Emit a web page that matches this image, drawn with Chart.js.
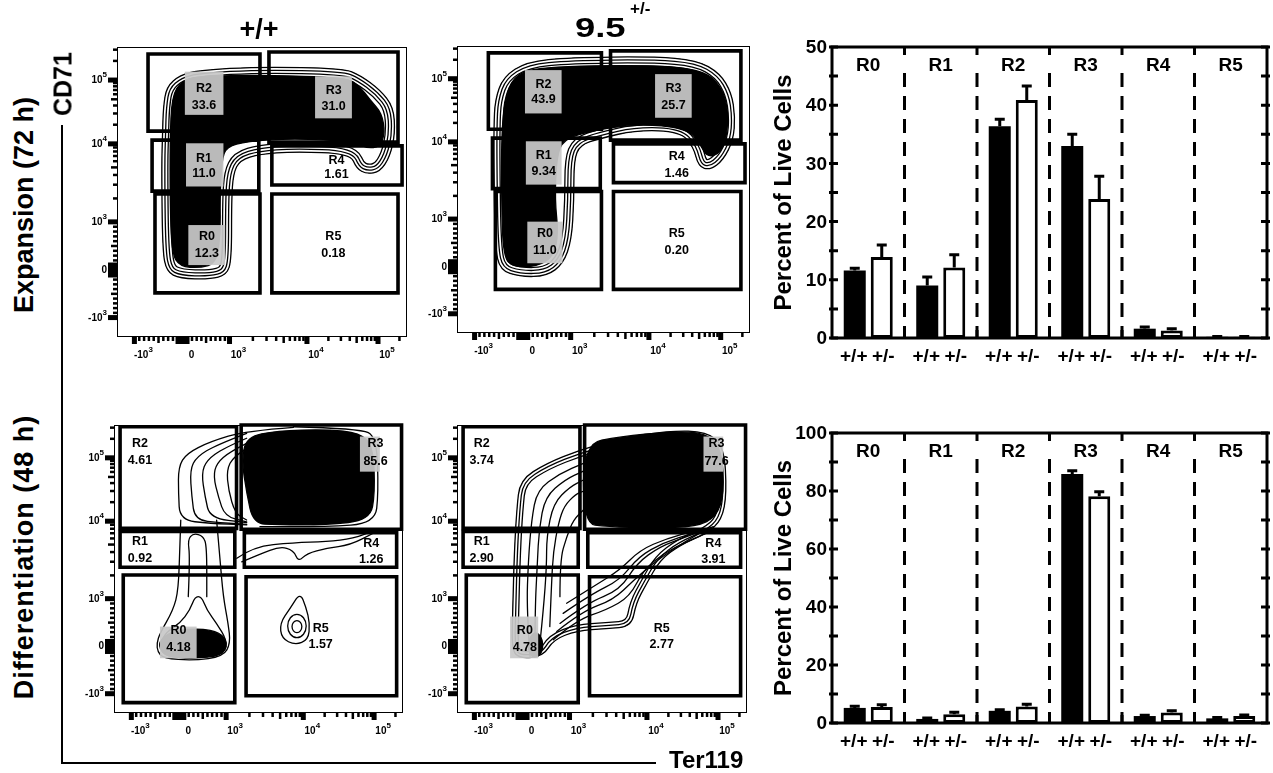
<!DOCTYPE html>
<html><head><meta charset="utf-8">
<script src="https://cdn.jsdelivr.net/npm/chart.js@4.4.1/dist/chart.umd.min.js"></script>
<style>
html,body{margin:0;padding:0;background:#fff;}
body{position:relative;width:1273px;height:773px;overflow:hidden;font-family:"Liberation Sans",Arial,Helvetica,sans-serif;}
canvas{position:absolute;}
.txt{position:absolute;font-weight:bold;line-height:1;white-space:nowrap;color:#000;font-family:"Liberation Sans",Arial,Helvetica,sans-serif;}
.rule{position:absolute;background:#000;}
</style></head>
<body>
<canvas id="tl"></canvas><canvas id="tr"></canvas><canvas id="bl"></canvas><canvas id="br"></canvas>
<canvas id="barTop"></canvas><canvas id="barBot"></canvas>
<div class="rule" style="left:61px;top:125px;width:2px;height:639px;"></div>
<div class="rule" style="left:61px;top:762px;width:595px;height:2px;"></div>
<script>
const FONT = '"Liberation Sans", Arial, Helvetica, sans-serif';
Chart.defaults.font.family = FONT;

// ---------------- bar chart data ----------------
const regions = ["R0","R1","R2","R3","R4","R5"];
const genotypes = ["+/+","+/-"];
const expansionWT     = [11.6, 9.0, 36.4, 33.0, 1.6, 0.2];
const expansionWTsem  = [0.4, 1.5, 1.2, 2.0, 0.3, 0.05];
const expansionHet    = [13.9, 12.1, 40.9, 23.9, 1.3, 0.2];
const expansionHetsem = [2.1, 2.2, 2.4, 3.9, 0.3, 0.05];
const diffWT     = [5.2, 1.4, 4.2, 85.9, 2.4, 1.6];
const diffWTsem  = [0.6, 0.3, 0.4, 1.1, 0.3, 0.3];
const diffHet    = [5.5, 3.0, 5.7, 78.2, 3.6, 2.4];
const diffHetsem = [0.8, 0.7, 0.8, 1.5, 0.6, 0.4];
const expansionYTicks = [0,5,10,15,20,25,30,35,40,45,50];
const expansionYLabels = [0,10,20,30,40,50];
const diffYTicks = [0,10,20,30,40,50,60,70,80,90,100];
const diffYLabels = [0,20,40,60,80,100];

// ---------------- flow cytometry data (axis display units 0-100) ----------------
const flowTickLabels = [["-10","3"],["0",""],["10","3"],["10","4"],["10","5"]];
const flowXTickPos = [6, 22.6, 38.8, 65.5, 90];
const flowYTickPos = [6.7, 23.1, 39.7, 66.6, 88.6];

const expWTPct  = ["12.3","11.0","33.6","31.0","1.61","0.18"];
const expHetPct = ["11.0","9.34","43.9","25.7","1.46","0.20"];
const difWTPct  = ["4.18","0.92","4.61","85.6","1.26","1.57"];
const difHetPct = ["4.78","2.90","3.74","77.6","3.91","2.77"];

// gates [xmin, xmax, ymin, ymax] for R0..R5
const expansionGates = [
  [13.1,49.3,15.2,49.3],[12.1,48.9,50.3,67.9],[10.7,49.3,71.0,97.6],
  [52.4,96.9,67.2,98.3],[53.4,98.3,52.4,65.9],[53.4,96.9,15.2,49.3]];
const differentiationGates = [
  [3.2,41.8,3.6,47.9],[2.1,41.8,50.6,63.0],[2.1,42.4,64.1,99.4],
  [44.0,99.5,63.8,100],[45.1,97.8,50.6,62.6],[45.7,97.8,6.0,47.3]];

// contour outlines
const expWTOuter = [[16.0,79.4],[17.1,86.3],[21.7,90.3],[28.6,92.0],[49.3,93.2],[78.1,92.6],[83.8,90.3],[90.7,85.2],[95.3,79.4],[95.9,70.3],[94.1,62.2],[90.7,57.0],[86.1,56.2],[82.6,58.1],[80.4,63.3],[60.8,63.9],[49.3,63.1],[42.4,61.0],[40.1,56.4],[39.5,47.2],[39.5,26.6],[37.8,21.4],[32.0,19.9],[21.7,20.2],[17.1,22.5],[15.7,30.0],[15.4,58.7],[15.7,70.3]];
const expWTCore = [[18.9,82.9],[22.4,88.6],[29.3,90.0],[49.3,90.3],[79.2,89.5],[83.8,86.3],[87.2,81.8],[91.3,77.2],[92.4,70.3],[90.7,65.6],[86.1,65.1],[81.5,67.4],[60.8,68.5],[44.7,67.4],[37.8,65.6],[36.1,61.0],[35.5,47.2],[35.7,35.8],[34.3,25.5],[28.6,23.8],[21.7,24.3],[18.9,28.9],[18.3,47.2],[18.3,67.9]];
const expHetOuter = [[13.0,81.2],[15.8,89.3],[23.8,94.5],[38.6,96.0],[67.0,96.3],[81.8,95.1],[89.7,90.5],[93.7,83.6],[94.9,75.4],[94.3,67.3],[90.9,60.3],[86.4,56.8],[82.4,58.0],[80.7,64.9],[76.1,70.2],[61.3,70.7],[48.8,67.8],[42.0,65.5],[39.9,60.3],[39.9,46.3],[39.1,32.4],[36.3,24.2],[30.6,19.8],[21.5,19.6],[14.7,21.9],[13.0,30.0],[12.6,58.0],[12.6,71.9]];
const expHetCore = [[16.4,81.2],[19.2,89.3],[27.2,92.8],[67.0,93.4],[84.1,91.6],[90.3,85.8],[92.6,77.7],[92.0,67.3],[89.2,62.1],[85.2,61.5],[82.9,66.1],[78.4,71.3],[61.3,73.0],[44.3,70.1],[36.3,67.3],[34.0,61.5],[33.4,46.3],[34.6,34.7],[32.9,26.6],[27.2,23.1],[19.2,23.1],[15.8,26.6],[15.2,46.3],[15.2,69.6]];

const difWTCore = [[45.9,95.9],[56.3,98.0],[73.6,98.5],[85.1,97.3],[89.7,92.5],[90.3,76.3],[88.6,67.0],[73.6,65.3],[56.3,65.3],[48.2,65.8],[45.9,76.3],[44.2,87.8]];
const difWTRingR = [[62.1,99.4],[85.1,98.8],[90.9,95.9],[91.5,76.3],[90.3,65.8],[73.6,64.7],[50.5,64.7]];
const difWTRing1 = [[62.1,99.2],[45.9,98.0],[33.2,94.2],[25.1,90.1],[22.3,85.5],[22.3,76.3],[22.8,67.0],[33.2,65.8],[45.9,65.3]];
const difWTRing2 = [[45.9,97.1],[35.5,93.1],[28.6,89.0],[26.3,84.4],[26.9,75.1],[28.0,67.0],[36.7,66.1],[45.9,65.5]];
const difWTRing3 = [[45.9,95.4],[37.8,91.9],[32.1,87.8],[30.3,83.2],[31.5,75.1],[33.2,67.6],[45.9,66.1]];
const difWTRing4 = [[45.9,93.6],[40.1,90.7],[35.5,86.7],[34.4,82.1],[36.1,75.1],[38.4,68.2],[45.9,66.4]];
const difWTRing5 = [[45.9,91.9],[41.3,89.0],[39.0,84.4],[39.6,77.4],[41.9,69.3],[45.9,67.0]];
const difWTR0Outer = [[23.1,67.0],[22.8,58.9],[22.3,42.8],[20.5,35.8],[15.9,27.7],[14.8,24.2],[15.1,21.3],[17.1,19.0],[27.4,18.2],[37.8,19.6],[40.3,24.2],[39.5,31.1],[37.8,40.4],[36.7,53.1],[35.5,67.0]];
const difWTR0Mid = [[15.9,24.2],[18.2,28.2],[22.8,31.1],[26.3,35.8],[28.0,40.4],[30.3,40.4],[32.1,35.8],[35.5,31.1],[39.0,25.4],[38.4,20.7],[29.8,19.0],[19.4,19.3],[16.5,21.3]];
const difWTR0Core = [[15.9,25.4],[20.5,28.6],[29.8,29.4],[36.7,27.9],[39.5,24.2],[37.2,19.8],[27.4,19.0],[18.2,19.6],[15.7,22.4]];
const difWTTube = [[25.7,40.4],[26.3,54.2],[25.5,60.1],[27.4,62.4],[30.9,61.5],[32.1,57.8],[32.1,40.4]];
const difWTWave1 = [[44.2,52.5],[50.5,55.2],[57.4,57.8],[62.1,56.6],[63.8,52.5],[66.7,55.4],[73.6,57.2],[81.7,58.3],[89.7,62.4]];
const difWTWave2 = [[42.5,53.7],[48.2,57.8],[62.1,59.1],[73.6,59.5],[82.8,60.6],[90.3,63.5]];
const difWTR5Drop = [[64.4,41.8],[60.9,36.3],[57.4,31.1],[58.0,25.9],[62.7,23.6],[67.2,25.4],[67.8,31.1],[66.4,36.9]];
const difWTR5Ovals = [[63.3,30.2,3.2,4.05],[63.3,30.0,1.7,2.1]];

const difHetOuter = [[18.9,21.9],[19.2,35.8],[19.8,56.6],[20.6,70.5],[21.7,80.9],[30.9,86.7],[42.4,91.3],[56.2,95.4],[73.4,98.0],[86.1,97.7],[92.1,92.5],[93.0,76.3],[91.3,67.0],[86.1,62.4],[76.9,58.3],[70.0,53.1],[65.4,45.0],[61.7,38.1],[60.2,30.0],[51.6,29.3],[41.3,28.6],[33.2,25.4],[29.8,19.8],[21.7,18.9]];
const difHetCore = [[43.6,93.6],[56.2,95.9],[73.4,97.7],[86.1,97.3],[91.3,91.3],[92.1,76.3],[89.5,68.2],[82.7,64.7],[67.7,64.2],[51.6,64.7],[43.6,65.8]];
const difHetRingA = [[25.2,19.6],[24.0,35.8],[24.6,53.1],[25.7,67.0],[27.6,77.4],[35.5,83.2],[43.6,86.7]];
const difHetRingA2 = [[26.9,21.9],[26.9,35.8],[27.7,52.0],[28.3,64.0],[30.4,75.0],[37.2,81.0],[43.6,84.0]];
const difHetRingB = [[28.6,24.2],[29.8,35.8],[30.9,50.9],[30.9,61.2],[33.2,72.8],[39.0,78.6],[43.6,80.9]];
const difHetRingB2 = [[32.0,30.0],[32.6,45.0],[33.2,56.0],[35.0,66.0],[37.0,72.0],[41.0,76.0],[43.6,77.0]];
const difHetRingC = [[35.5,40.4],[35.5,53.1],[37.8,61.2],[40.1,67.0],[43.6,70.5]];
const difHetRingD = [[33.2,25.4],[41.3,32.3],[51.6,35.8],[59.6,40.4],[64.3,49.7],[71.2,55.4],[79.2,59.5],[87.3,63.0]];
const difHetRingD2 = [[34.4,28.3],[43.0,35.2],[53.9,39.3],[60.8,46.0],[67.2,51.6],[75.2,57.4],[83.3,62.2]];
const difHetRingE = [[35.5,31.1],[44.7,38.1],[56.2,42.7],[62.0,52.0],[70.0,57.8],[79.2,61.2],[88.4,64.7]];
const difHetRingE2 = [[36.6,34.6],[45.9,41.0],[56.2,46.2],[62.6,54.3],[71.2,59.2],[80.9,62.3]];
const difHetRingF = [[37.8,38.1],[47.0,43.9],[56.2,49.7],[63.1,56.6],[72.3,60.6],[82.7,63.5]];
const difHetR0Core = [[26.9,28.8],[29.8,25.4],[29.2,20.1],[25.7,19.0],[24.0,24.2]];

// ---------------- layout (positions / styles) ----------------
const labelLayout = {
  tl:{pos:[[31,34.6,28.9],[30,61.6,56.4],[30,85.6,79.9],[74.7,85,79.5],[75.7,61,56],[74.6,34.6,28.9]],
      boxes:[[24.6,37.3,24.8,38.6],[23.8,36.7,51.9,66.8],[23.4,36.7,76.6,91.5],[68.3,81,75.4,89.9],null,null]},
  tr:{pos:[[30,34.7,28.9],[29.6,62,56.2],[29.5,86.4,81.2],[73.9,85.3,79.1],[75,61.4,55.6],[75,34.7,28.9]],
      boxes:[[24,36,24.3,38.8],[23.5,35.7,51.7,66.8],[23.2,35.7,76.5,91.6],[67.6,80.1,75,90.2],null,null]},
  bl:{pos:[[22.3,28.8,22.8],[9,59.5,53.7],[9,93.6,87.8],[90.5,93.6,87.3],[89,59,53.2],[71.5,29.4,23.6]],
      boxes:[[15.9,28.6,19,30],null,null,[85.1,92,83.8,96],null,null]},
  br:{pos:[[23.4,28.8,22.8],[8.5,59.5,53.7],[8.5,93.6,87.8],[89.5,93.6,87.3],[88.4,59,53.2],[70.6,29.4,23.6]],
      boxes:[[18.3,28,19,33.5],null,null,[85,91.8,83.8,96],null,null]}
};

function placeCanvas(id, left, top, w, h){
  const c = document.getElementById(id);
  c.width = w; c.height = h;
  c.style.left = left+'px'; c.style.top = top+'px';
  c.style.width = w+'px'; c.style.height = h+'px';
  return c;
}

function tracePath(ctx, pts, sx, sy, closed){
  const P = pts.map(p => [sx.getPixelForValue(p[0]), sy.getPixelForValue(p[1])]);
  const mid = (a,b) => [(a[0]+b[0])/2,(a[1]+b[1])/2];
  ctx.beginPath();
  if (closed){
    const n = P.length;
    const m0 = mid(P[n-1], P[0]);
    ctx.moveTo(m0[0], m0[1]);
    for (let i=0;i<n;i++){ const m = mid(P[i], P[(i+1)%n]); ctx.quadraticCurveTo(P[i][0],P[i][1],m[0],m[1]); }
    ctx.closePath();
  } else {
    ctx.moveTo(P[0][0],P[0][1]);
    for (let i=1;i<P.length-1;i++){ const m = mid(P[i],P[i+1]); ctx.quadraticCurveTo(P[i][0],P[i][1],m[0],m[1]); }
    ctx.lineTo(P[P.length-1][0],P[P.length-1][1]);
  }
}

function drawFlowShapes(chart, layers){
  const {ctx, scales:{x,y}} = chart;
  ctx.save();
  ctx.lineJoin = 'round'; ctx.lineCap = 'round';
  for (const L of layers){
    if (L.ovals){
      ctx.strokeStyle = '#000'; ctx.lineWidth = 1.3;
      L.ovals.forEach(o => {
        const cx = x.getPixelForValue(o[0]), cy = y.getPixelForValue(o[1]);
        const rx = Math.abs(x.getPixelForValue(o[0]+o[2]) - cx), ry = Math.abs(y.getPixelForValue(o[1]+o[3]) - cy);
        ctx.beginPath(); ctx.ellipse(cx, cy, rx, ry, 0, 0, Math.PI*2); ctx.stroke();
      });
      continue;
    }
    tracePath(ctx, L.pts, x, y, L.closed);
    if (L.kind === 'fill'){
      ctx.fillStyle = '#000'; ctx.fill();
      ctx.lineWidth = 1.3; ctx.strokeStyle = '#000'; ctx.stroke();
    } else if (L.kind === 'stroke'){
      ctx.lineWidth = L.w || 1.3; ctx.strokeStyle = '#000'; ctx.stroke();
    } else if (L.kind === 'stripes'){
      ctx.save(); ctx.clip();
      for (let k=L.n;k>=1;k--){
        ctx.lineWidth = 2*k*L.s+1.3; ctx.strokeStyle = '#000'; ctx.stroke();
        ctx.lineWidth = 2*k*L.s-1.3; ctx.strokeStyle = '#fff'; ctx.stroke();
      }
      ctx.restore();
      ctx.lineWidth = 1.3; ctx.strokeStyle = '#000'; ctx.stroke();
    }
  }
  ctx.restore();
}

function drawFlowLabels(chart, pct, layout){
  const {ctx, scales:{x,y}} = chart;
  ctx.save();
  layout.boxes.forEach(b => {
    if (!b) return;
    const x1 = x.getPixelForValue(b[0]), x2 = x.getPixelForValue(b[1]);
    const y1 = y.getPixelForValue(b[3]), y2 = y.getPixelForValue(b[2]);
    ctx.fillStyle = 'rgba(200,200,200,0.93)';
    ctx.fillRect(x1, y1, x2-x1, y2-y1);
  });
  ctx.fillStyle = '#000';
  ctx.font = `bold 12.5px ${FONT}`;
  ctx.textAlign = 'center'; ctx.textBaseline = 'middle';
  layout.pos.forEach((p,i) => {
    const px = x.getPixelForValue(p[0]);
    ctx.fillText(regions[i], px, y.getPixelForValue(p[1]));
    ctx.fillText(pct[i], px, y.getPixelForValue(p[2]));
  });
  ctx.restore();
}

function minorTicks(pos){
  const out = [];
  for (let m=1;m<10;m++){
    out.push({v: pos[1]+(pos[0]-pos[1])*m/10, mid: m===5});
    out.push({v: pos[1]+(pos[2]-pos[1])*m/10, mid: m===5});
  }
  for (let k=2;k<4;k++) for (let m=2;m<10;m++) out.push({v: pos[k]+(pos[k+1]-pos[k])*Math.log10(m), mid: m===5});
  for (let m=2;m<10;m++){ const v = pos[4]+(pos[4]-pos[3])*Math.log10(m); if (v<100) out.push({v, mid: m===5}); }
  return out;
}

function drawFlowAxes(chart){
  const {ctx, chartArea:a, scales:{x,y}} = chart;
  ctx.save();
  ctx.strokeStyle = '#000'; ctx.lineWidth = 1;
  ctx.strokeRect(a.left+0.5, a.top+0.5, a.right-a.left-1, a.bottom-a.top-1);
  ctx.fillStyle = '#000';
  minorTicks(flowXTickPos).forEach(m => { const px = x.getPixelForValue(m.v); ctx.fillRect(px-1.2, a.bottom, 2.5, m.mid?6:4); });
  flowXTickPos.forEach((v,i) => { const px = x.getPixelForValue(v); const w = i===1?14:5; ctx.fillRect(px-w/2, a.bottom, w, 7); });
  minorTicks(flowYTickPos).forEach(m => { const py = y.getPixelForValue(m.v); const l = m.mid?6:4; ctx.fillRect(a.left-l, py-1.2, l, 2.5); });
  flowYTickPos.forEach((v,i) => { const py = y.getPixelForValue(v); const h = i===1?15:5; ctx.fillRect(a.left-9, py-h/2, 9, h); });
  const baseF = `bold 10px ${FONT}`, supF = `bold 8px ${FONT}`;
  ctx.textBaseline = 'alphabetic'; ctx.textAlign = 'left';
  flowTickLabels.forEach((lb,i) => {
    ctx.font = baseF; const wb = ctx.measureText(lb[0]).width;
    ctx.font = supF; const ws = lb[1] ? ctx.measureText(lb[1]).width : 0;
    const cx = x.getPixelForValue(flowXTickPos[i]) + 9;
    const sx = cx - (wb+ws)/2;
    ctx.font = baseF; ctx.fillText(lb[0], sx, a.bottom+21);
    if (lb[1]){ ctx.font = supF; ctx.fillText(lb[1], sx+wb, a.bottom+15); }
    const py = y.getPixelForValue(flowYTickPos[i]);
    const ex = a.left - 10 - (wb+ws);
    ctx.font = baseF; ctx.fillText(lb[0], ex, py+3);
    if (lb[1]){ ctx.font = supF; ctx.fillText(lb[1], ex+wb, py-3); }
  });
  ctx.restore();
}

function flowChart(id, place, gates, layers, pct, layout){
  const c = placeCanvas(id, place[0], place[1], place[2], place[3]);
  const gateSets = gates.map(g => ({
    data: [{x:g[0],y:g[2]},{x:g[1],y:g[2]},{x:g[1],y:g[3]},{x:g[0],y:g[3]},{x:g[0],y:g[2]}],
    showLine: true, borderColor: '#000', borderWidth: 3.6, pointRadius: 0, fill: false,
    clip: false, tension: 0, borderJoinStyle: 'miter', borderCapStyle: 'square'
  }));
  return new Chart(c, {
    type: 'scatter',
    data: {datasets: gateSets},
    options: {
      responsive: false, animation: false, devicePixelRatio: 1, events: [],
      layout: {padding: {left:50, right:10, top:8, bottom:30}},
      scales: {x: {type:'linear', min:0, max:100, display:false}, y: {type:'linear', min:0, max:100, display:false}},
      plugins: {legend: {display:false}, tooltip: {enabled:false}}
    },
    plugins: [{
      id: 'flow'+id,
      beforeDatasetsDraw(ch){ drawFlowShapes(ch, layers); },
      afterDatasetsDraw(ch){ drawFlowLabels(ch, pct, layout); },
      afterDraw(ch){ drawFlowAxes(ch); }
    }]
  });
}

const S = (pts, kind, extra) => Object.assign({pts, kind, closed:true}, extra||{});
const O = {closed:false};
flowChart('tl', [67,39,350,328], expansionGates,
  [S(expWTOuter,'stripes',{n:3,s:3}), S(expWTCore,'fill')], expWTPct, labelLayout.tl);
flowChart('tr', [407,38,353,325], expansionGates,
  [S(expHetOuter,'stripes',{n:3,s:3}), S(expHetCore,'fill')], expHetPct, labelLayout.tr);
flowChart('bl', [64,417,349,326], differentiationGates,
  [S(difWTRingR,'stroke',O), S(difWTRing1,'stroke',O), S(difWTRing2,'stroke',O),
   S(difWTRing3,'stroke',O), S(difWTRing4,'stroke',O), S(difWTRing5,'stroke',O),
   S(difWTCore,'fill'), S(difWTR0Outer,'stroke',O), S(difWTTube,'stroke',O),
   S(difWTR0Mid,'stroke'), S(difWTR0Core,'fill'), S(difWTWave1,'stroke',O), S(difWTWave2,'stroke',O),
   S(difWTR5Drop,'stroke'), {ovals: difWTR5Ovals}], difWTPct, labelLayout.bl);
flowChart('br', [407,417,350,326], differentiationGates,
  [S(difHetOuter,'stripes',{n:2,s:3}), S(difHetRingA,'stroke',O), S(difHetRingA2,'stroke',O), S(difHetRingB,'stroke',O),
   S(difHetRingB2,'stroke',O), S(difHetRingC,'stroke',O), S(difHetRingD,'stroke',O), S(difHetRingD2,'stroke',O),
   S(difHetRingE,'stroke',O), S(difHetRingE2,'stroke',O), S(difHetRingF,'stroke',O),
   S(difHetCore,'fill'), S(difHetR0Core,'fill')], difHetPct, labelLayout.br);

// ---------------- bar charts ----------------
function barChart(id, place, pad, wt, wtErr, het, hetErr, yMax, yTicks, yLabels){
  const c = placeCanvas(id, place[0], place[1], place[2], place[3]);
  const errs = [wtErr, hetErr];
  return new Chart(c, {
    type: 'bar',
    data: {
      labels: regions,
      datasets: [
        {label: genotypes[0], data: wt, backgroundColor: '#000', borderColor: '#000', borderWidth: 0,
         categoryPercentage: 0.745, barPercentage: 0.815},
        {label: genotypes[1], data: het, backgroundColor: '#fff', borderColor: '#000', borderWidth: 3, borderSkipped: false,
         categoryPercentage: 0.745, barPercentage: 0.815}
      ]
    },
    options: {
      responsive: false, animation: false, devicePixelRatio: 1, events: [],
      layout: {padding: pad},
      scales: {x: {display: false}, y: {display: false, min: 0, max: yMax}},
      plugins: {legend: {display:false}, tooltip: {enabled:false}}
    },
    plugins: [{
      id: 'decor'+id,
      afterDatasetsDraw(chart){
        const {ctx, scales:{y}} = chart;
        ctx.save(); ctx.strokeStyle = '#000'; ctx.lineWidth = 3; ctx.lineCap = 'butt';
        errs.forEach((arr, di) => {
          chart.getDatasetMeta(di).data.forEach((el, i) => {
            const v = chart.data.datasets[di].data[i];
            const yt = y.getPixelForValue(v + arr[i]);
            ctx.beginPath();
            ctx.moveTo(el.x, el.y); ctx.lineTo(el.x, yt);
            ctx.moveTo(el.x-5, yt); ctx.lineTo(el.x+5, yt);
            ctx.stroke();
          });
        });
        ctx.restore();
      },
      afterDraw(chart){
        const {ctx, chartArea:a, scales:{x,y}} = chart;
        ctx.save();
        ctx.strokeStyle = '#000'; ctx.fillStyle = '#000'; ctx.lineWidth = 3;
        const n = regions.length;
        const bounds = [];
        for (let i=1;i<n;i++) bounds.push((x.getPixelForValue(i-1)+x.getPixelForValue(i))/2);
        ctx.setLineDash([14,9]);
        bounds.forEach(bx => { ctx.beginPath(); ctx.moveTo(bx, a.top+26); ctx.lineTo(bx, a.bottom); ctx.stroke(); });
        ctx.setLineDash([]);
        bounds.forEach(bx => {
          ctx.beginPath(); ctx.moveTo(bx, a.top); ctx.lineTo(bx, a.top+8);
          ctx.moveTo(bx, a.bottom); ctx.lineTo(bx, a.bottom-8); ctx.stroke();
        });
        yTicks.forEach(v => {
          const py = y.getPixelForValue(v);
          ctx.beginPath(); ctx.moveTo(a.left-3, py); ctx.lineTo(a.left+6, py);
          ctx.moveTo(a.right-6, py); ctx.lineTo(a.right+3, py); ctx.stroke();
        });
        ctx.strokeRect(a.left, a.top, a.right-a.left, a.bottom-a.top);
        ctx.font = `bold 19px ${FONT}`;
        ctx.textAlign = 'right'; ctx.textBaseline = 'middle';
        yLabels.forEach(v => ctx.fillText(String(v), a.left-5, y.getPixelForValue(v)+1));
        ctx.textAlign = 'center'; ctx.textBaseline = 'alphabetic';
        regions.forEach((r,i) => ctx.fillText(r, x.getPixelForValue(i), a.top+24));
        genotypes.forEach((g, di) => {
          chart.getDatasetMeta(di).data.forEach(el => ctx.fillText(g, el.x + (di?1.5:-1), a.bottom+24));
        });
        ctx.translate(14, (a.top+a.bottom)/2); ctx.rotate(-Math.PI/2);
        ctx.font = `bold 24px ${FONT}`; ctx.textAlign = 'center'; ctx.textBaseline = 'middle';
        ctx.fillText('Percent of Live Cells', 0, 0);
        ctx.restore();
      }
    }]
  });
}
barChart('barTop', [770,0,503,380], {left:62,right:6,top:47,bottom:42},
  expansionWT, expansionWTsem, expansionHet, expansionHetsem, 50, expansionYTicks, expansionYLabels);
barChart('barBot', [770,400,503,373], {left:62,right:6,top:33,bottom:50},
  diffWT, diffWTsem, diffHet, diffHetsem, 100, diffYTicks, diffYLabels);

// ---------------- outer texts ----------------
function addText(txt, x, y, size, opts){
  opts = opts || {};
  const d = document.createElement('div');
  d.className = 'txt';
  d.textContent = txt;
  d.style.left = x+'px'; d.style.top = y+'px'; d.style.fontSize = size+'px';
  let tf = opts.align === 'left' ? 'translate(0,-50%)' : 'translate(-50%,-50%)';
  if (opts.rot) tf += ' rotate(-90deg)';
  if (opts.sx) { tf += ` scaleX(${opts.sx})`; d.style.transformOrigin = 'left center'; }
  d.style.transform = tf;
  if (opts.ls) d.style.letterSpacing = opts.ls+'px';
  document.body.appendChild(d);
}
addText('+/+', 259, 38-0.347*27, 27);
addText('9.5', 575, 38-0.347*28, 28, {align:'left', sx:1.3});
addText('+/-', 630, 14-0.347*17, 17, {align:'left'});
addText('Expansion (72 h)', 24, 205, 27, {rot:true});
addText('Differentiation (48 h)', 24, 557, 27, {rot:true, ls:1});
addText('CD71', 63, 84, 25, {rot:true});
addText('Ter119', 669, 768-0.347*24, 24, {align:'left'});
</script>
</body></html>
